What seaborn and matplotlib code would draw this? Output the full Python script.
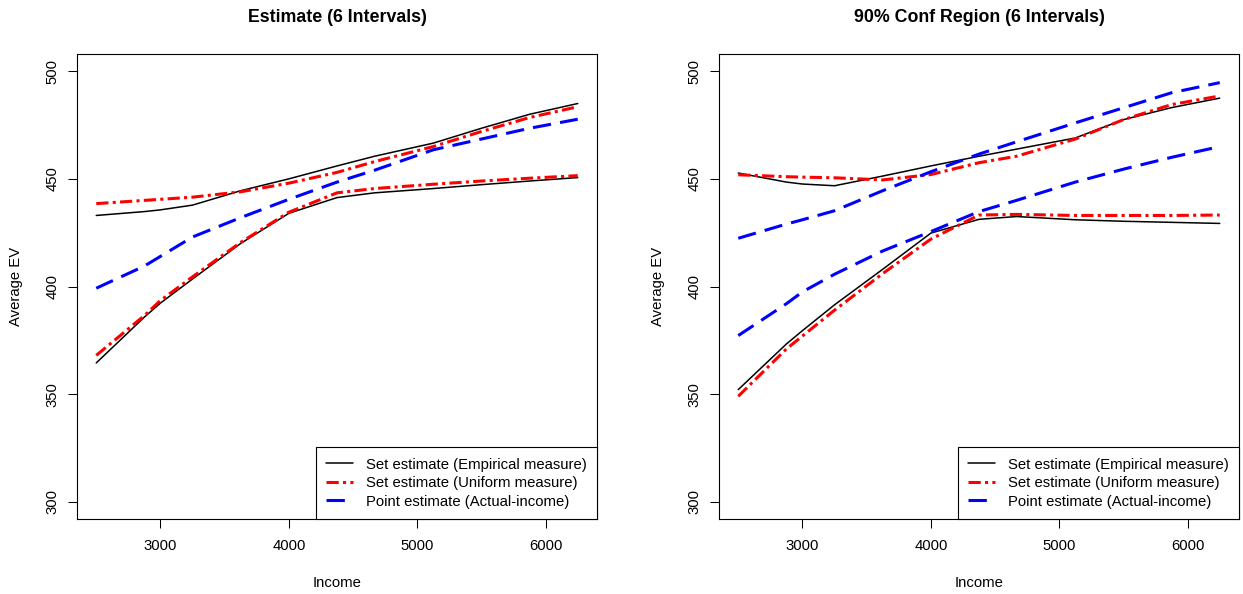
import pandas as pd
import seaborn as sns
import matplotlib.pyplot as plt
from matplotlib.lines import Line2D

# income grid shared by all curves
income = [2500, 2875, 3000, 3250, 3625, 4000, 4375, 4667, 5125, 5500, 5875, 6250]

# left panel: Estimate (6 Intervals)
est_emp_hi = [433.0, 434.8, 435.6, 437.8, 444.5, 450.0, 456.0, 460.5, 466.6, 473.5, 480.0, 485.0]
est_emp_lo = [364.5, 385.8, 392.3, 403.5, 420.0, 434.0, 441.3, 443.5, 445.5, 447.3, 449.0, 450.6]
est_uni_hi = [438.5, 440.0, 440.5, 441.5, 444.0, 448.0, 453.0, 458.0, 465.0, 472.0, 478.5, 483.5]
est_uni_lo = [368.0, 386.5, 393.5, 404.5, 420.5, 434.5, 443.5, 445.5, 447.5, 449.0, 450.3, 451.5]
est_point = [399.2, 409.5, 414.0, 423.0, 432.0, 440.5, 448.5, 454.0, 463.5, 468.5, 473.5, 477.7]

# right panel: 90% Conf Region (6 Intervals)
cr_emp_hi = [452.7, 448.5, 447.6, 446.8, 451.3, 456.0, 460.5, 463.8, 469.0, 477.5, 483.1, 487.5]
cr_emp_lo = [352.1, 373.3, 379.5, 391.5, 408.0, 424.8, 431.2, 432.5, 431.0, 430.3, 429.8, 429.3]
cr_uni_hi = [451.9, 451.0, 450.8, 450.5, 449.5, 452.0, 457.5, 460.5, 468.5, 477.5, 484.5, 488.5]
cr_uni_lo = [349.0, 371.0, 377.0, 389.0, 406.0, 422.0, 433.2, 433.5, 433.0, 433.0, 433.0, 433.2]
cr_pt_hi = [422.4, 429.0, 431.0, 435.2, 444.5, 453.3, 461.5, 467.2, 476.0, 483.0, 490.0, 494.7]
cr_pt_lo = [377.2, 392.0, 397.5, 405.7, 416.5, 425.5, 434.8, 440.0, 448.5, 454.5, 460.0, 465.0]

titles = ['Estimate (6 Intervals)', '90% Conf Region (6 Intervals)']
legend_labels = ['Set estimate (Empirical measure)', 'Set estimate (Uniform measure)',
                 'Point estimate (Actual-income)']


def long_df(curves):
    rows = []
    for name, vals in curves.items():
        for x, y in zip(income, vals):
            rows.append((x, y, name))
    return pd.DataFrame(rows, columns=['Income', 'EV', 'curve'])


panels = [
    long_df({'emp_hi': est_emp_hi, 'emp_lo': est_emp_lo, 'uni_hi': est_uni_hi,
             'uni_lo': est_uni_lo, 'pt_hi': est_point}),
    long_df({'emp_hi': cr_emp_hi, 'emp_lo': cr_emp_lo, 'uni_hi': cr_uni_hi,
             'uni_lo': cr_uni_lo, 'pt_hi': cr_pt_hi, 'pt_lo': cr_pt_lo}),
]

kind_color = {'emp': 'black', 'uni': '#ff0000', 'pt': '#0000ff'}
kind_dash = {'emp': '', 'uni': (4, 1.4, 1, 1.4), 'pt': (6, 3)}
kind_lw = {'emp': 1.1, 'uni': 2.2, 'pt': 2.2}

sns.set_style('ticks')
plt.rcParams['font.family'] = ['Liberation Sans', 'DejaVu Sans']
plt.rcParams['axes.linewidth'] = 0.8
plt.rcParams['text.color'] = 'black'
plt.rcParams['axes.labelcolor'] = 'black'
plt.rcParams['xtick.color'] = 'black'
plt.rcParams['ytick.color'] = 'black'

fig = plt.figure(figsize=(12.43, 5.94), dpi=100)
W, H = 1243, 594
boxes = [(77, 54, 520, 465), (719, 54, 520, 465)]

for k, (df, (bx, by, bw, bh)) in enumerate(zip(panels, boxes)):
    ax = fig.add_axes([bx / W, 1 - (by + bh) / H, bw / W, bh / H])
    names = df['curve'].unique()
    pal = {n: kind_color[n.split('_')[0]] for n in names}
    dsh = {n: kind_dash[n.split('_')[0]] for n in names}
    szs = {n: kind_lw[n.split('_')[0]] for n in names}
    sns.lineplot(data=df, x='Income', y='EV', hue='curve', style='curve', size='curve',
                 palette=pal, dashes=dsh, sizes=szs, legend=False, ax=ax)
    ax.set_xlim(2350, 6400)
    ax.set_ylim(292, 508)
    ax.set_xticks([3000, 4000, 5000, 6000])
    ax.set_yticks([300, 350, 400, 450, 500])
    for s in ax.spines.values():
        s.set_visible(True)
        s.set_color('black')
    ax.tick_params(direction='out', length=6.5, width=0.75, labelsize=10.7,
                   colors='black', labelcolor='black')
    ax.tick_params(axis='x', pad=8)
    ax.tick_params(axis='y', pad=6, labelrotation=90)
    for lbl in ax.get_yticklabels():
        lbl.set_va('center')
    ax.set_xlabel('Income', fontsize=10.7, color='black')
    ax.set_ylabel('Average EV', fontsize=10.7, color='black')
    ax.xaxis.set_label_coords(0.5, -64 / bh)
    ax.xaxis.label.set_va('center')
    ax.yaxis.set_label_coords(-61 / bw, 0.5)
    ax.yaxis.label.set_va('center')
    ax.set_title(titles[k], fontsize=12.8, fontweight='bold', color='black',
                 y=1 + 36 / bh, pad=0, va='center')

    handles = [Line2D([], [], color=kind_color[c], lw=kind_lw[c],
                      dashes=kind_dash[c] if kind_dash[c] else (None, None))
               for c in ['emp', 'uni', 'pt']]
    leg = ax.legend(handles, legend_labels, loc='lower right', fontsize=10.7,
                    frameon=True, fancybox=False, framealpha=1, edgecolor='black',
                    borderaxespad=0, borderpad=0.7, handlelength=1.8, handletextpad=0.87,
                    labelspacing=0.3)
    leg.get_frame().set_linewidth(0.8)
    for t in leg.get_texts():
        t.set_color('black')

fig.savefig('out.png', dpi=100)
